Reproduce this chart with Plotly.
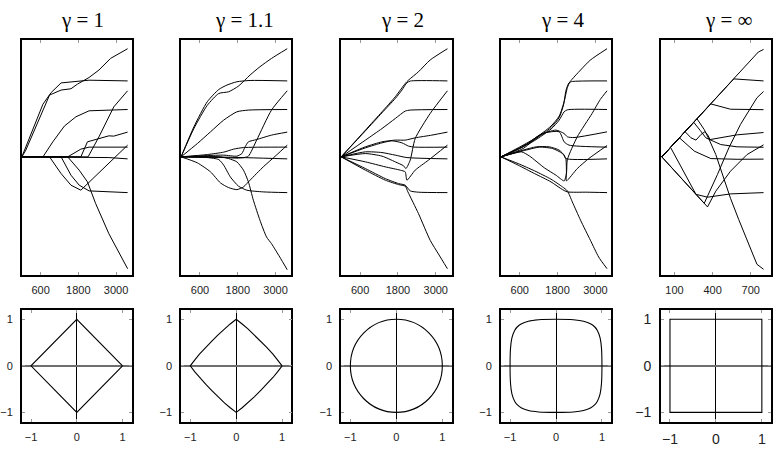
import plotly.graph_objects as go

# ---------------- data ----------------
TITLES = ["γ = 1", "γ = 1.1", "γ = 2", "γ = 4", "γ = ∞"]
TICKS_NORM = [600, 1800, 3000]
TICKS_INF = [100, 400, 700]
BALL_TICKS = [-1, 0, 1]

# gamma = 1
g1_bmi = [(0, 0), (672, 368), (935, 450), (1250, 517), (2142, 536), (3370, 531)]
g1_s5 = [(0, 0), (126, 47), (882, 432), (1250, 467), (1565, 476), (1775, 509), (2142, 555), (2457, 607), (2825, 688), (3087, 723), (3370, 756)]
g1_bp = [(0, 0), (672, 0), (987, 105), (1355, 215), (1722, 280), (2142, 322), (3370, 331)]
g1_s3 = [(0, 0), (882, 0), (1250, -117), (1565, -198), (1880, -233), (3370, 82)]
g1_sex = [(0, 0), (1250, 0), (1565, -128), (1827, -198), (2142, -238), (2772, -245), (3370, -250)]
g1_s1 = [(0, 0), (1460, 0), (1827, -93), (2090, -175), (2352, -327), (2772, -537), (3370, -782)]
g1_s6 = [(0, 0), (1460, 0), (1880, 54), (2142, 68), (3370, 68)]
g1_s4 = [(0, 0), (1880, 0), (2090, 105), (2352, 121), (2772, 147), (2930, 145), (3370, 173)]
g1_s2 = [(0, 0), (2110, 0), (2457, 140), (2930, 350), (3370, 462)]
g1_age = [(0, 0), (2772, -5), (3370, -14)]

# gamma = 1.1
g2_s5 = [(0, 0), (412, 200), (831, 360), (1197, 443), (1510, 455), (1824, 495), (2190, 572), (2504, 630), (2871, 688), (3370, 756)]
g2_bmi = [(0, 0), (412, 212), (831, 385), (1197, 471), (1458, 502), (1772, 525), (2190, 534), (3370, 531)]
g2_bp = [(0, 0), (517, 93), (935, 175), (1354, 257), (1772, 315), (2138, 327), (3370, 331)]
g2_s4 = [(0, 0), (831, 9), (1354, 12), (1772, 5), (1929, 23), (2033, 70), (2138, 105), (2400, 121), (2871, 152), (3370, 173)]
g2_s6 = [(0, 0), (831, 16), (1354, 33), (1667, 54), (1981, 65), (3370, 68)]
g2_age = [(0, 0), (1354, -2), (3370, -14)]
g2_s2 = [(0, 0), (1354, -5), (1772, -9), (2002, -5), (2138, 5), (2400, 117), (2871, 327), (3370, 462)]
g2_s3 = [(0, 0), (517, -42), (935, -105), (1249, -182), (1510, -215), (1772, -229), (1981, -210), (2190, -163), (2609, -70), (3027, 12), (3370, 82)]
g2_sex = [(0, 0), (831, -5), (1197, -19), (1354, -58), (1563, -140), (1824, -205), (2086, -233), (2609, -245), (3370, -250)]
g2_s1 = [(0, 0), (1249, 0), (1510, -12), (1772, -35), (1981, -93), (2138, -175), (2295, -303), (2504, -443), (2713, -560), (2871, -607), (3132, -700), (3370, -789)]

# gamma = 2
g3_s5 = [(0, 0), (769, 187), (1295, 315), (1716, 420), (2032, 513), (2138, 537), (2453, 595), (2822, 677), (3370, 756)]
g3_bmi = [(0, 0), (769, 182), (1295, 308), (1716, 408), (1927, 467), (2085, 518), (2190, 530), (3370, 531)]
g3_bp = [(0, 0), (769, 117), (1295, 198), (1716, 268), (2032, 320), (2190, 327), (3370, 331)]
g3_s4 = [(0, 0), (769, 70), (1295, 105), (1716, 117), (2032, 117), (2348, 133), (2875, 152), (3370, 173)]
g3_s6 = [(0, 0), (769, 63), (1295, 98), (1611, 112), (1927, 98), (2138, 75), (2348, 68), (3370, 68)]
g3_age = [(0, 0), (769, 35), (1295, 30), (1716, 12), (2085, -5), (3370, -14)]
g3_s2 = [(0, 0), (769, 23), (1295, 5), (1716, -35), (1980, -63), (2053, -82), (2190, -23), (2348, 128), (2822, 303), (3370, 462)]
g3_s3 = [(0, 0), (769, -35), (1400, -70), (1874, -93), (2032, -105), (2085, -163), (2348, -93), (2769, -23), (3370, 82)]
g3_sex = [(0, 0), (769, -82), (1400, -152), (1822, -187), (2032, -198), (2190, -238), (2453, -247), (3370, -250)]
g3_s1 = [(0, 0), (769, -93), (1400, -163), (1822, -194), (2032, -205), (2117, -245), (2453, -397), (2822, -583), (3085, -679), (3370, -782)]

# gamma = 4
g4_s5 = [(0, 0), (548, 63), (1069, 128), (1591, 215), (1851, 285), (2008, 385), (2112, 485), (2196, 525), (2529, 607), (2842, 677), (3370, 756)]
g4_bmi = [(0, 0), (548, 58), (1069, 121), (1591, 205), (1851, 275), (1987, 362), (2070, 467), (2164, 518), (2268, 527), (3370, 531)]
g4_bp = [(0, 0), (548, 54), (1069, 114), (1591, 194), (1851, 257), (2008, 315), (2112, 329), (3370, 331)]
g4_s4 = [(0, 0), (704, 70), (1226, 152), (1747, 187), (2008, 163), (2112, 140), (2321, 135), (3370, 175)]
g4_s6 = [(0, 0), (704, 58), (1330, 163), (1851, 175), (2008, 105), (2164, 82), (3370, 68)]
g4_age = [(0, 0), (704, 47), (1122, 70), (1538, 70), (1851, 47), (2008, 12), (2060, -12), (3370, -14)]
g4_s3 = [(0, 0), (704, 42), (1226, 68), (1643, 58), (1956, 23), (2060, -12), (2081, -105), (2081, -168), (2425, -82), (2790, -12), (3370, 79)]
g4_s2 = [(0, 0), (652, 35), (913, 5), (1382, -77), (1747, -128), (2008, -168), (2081, -117), (2112, -19), (2425, 140), (2894, 303), (3155, 401), (3370, 462)]
g4_sex = [(0, 0), (548, -58), (1069, -117), (1591, -175), (1956, -229), (2112, -245), (2738, -247), (3370, -250)]
g4_s1 = [(0, 0), (548, -47), (1069, -98), (1591, -156), (1956, -210), (2112, -238), (2268, -315), (2529, -443), (2842, -583), (3103, -700), (3370, -782)]

# gamma = infinity
g5_s5 = [(0, 0), (760, 733), (801, 751)]
g5_bmi = [(0, 0), (567, 545), (801, 531)]
g5_bp = [(0, 0), (386, 370), (541, 333), (801, 330)]
g5_s4 = [(0, 0), (183, 176), (230, 133), (269, 117), (308, 156), (339, 175), (360, 156), (380, 121), (593, 154), (801, 170)]
g5_s6 = [(0, 0), (251, 242), (303, 184), (347, 133), (464, 86), (593, 70), (801, 67)]
g5_s1 = [(0, 0), (277, 266), (334, 191), (373, 121), (425, 16), (477, -124), (541, -290), (606, -439), (749, -751), (801, -786)]
g5_age = [(0, 0), (139, 133), (256, 40), (386, -12), (593, -17), (801, -16)]
g5_sex = [(0, 0), (69, 66), (269, -262), (360, -282), (541, -259), (801, -250)]
g5_s2 = [(0, 0), (334, -325), (438, -124), (528, 63), (619, 226), (697, 343), (749, 413), (801, 457)]
g5_s3 = [(0, 0), (360, -350), (425, -240), (541, -100), (671, 16), (801, 84)]

# unit balls (first-quadrant outlines)
ball_l1 = [(1, 0), (0, 1)]
ball_l11 = [(1, 0), (0.9, 0.13), (0.8, 0.25), (0.66, 0.40), (0.53, 0.53), (0.40, 0.66), (0.25, 0.8), (0.13, 0.9), (0, 1)]
ball_l4 = [(1, 0), (0.99, 0.38), (0.96, 0.6), (0.9, 0.76), (0.84, 0.84), (0.76, 0.9), (0.6, 0.96), (0.38, 0.99), (0, 1)]
ball_linf = [(1, 0), (1, 1), (0, 1)]

# ---------------- layout geometry ----------------
W, H = 774, 450
COLS = [(12, 123.3), (173.3, 285), (335.5, 447.3), (497.3, 609), (659.3, 771)]
TOP = (40, 275)
BOT = (310, 421.7)
TITLE_X = [73.5, 238, 397.5, 560, 728]

panels = [
    [g1_age, g1_sex, g1_bmi, g1_bp, g1_s1, g1_s2, g1_s3, g1_s4, g1_s5, g1_s6],
    [g2_age, g2_sex, g2_bmi, g2_bp, g2_s1, g2_s2, g2_s3, g2_s4, g2_s5, g2_s6],
    [g3_age, g3_sex, g3_bmi, g3_bp, g3_s1, g3_s2, g3_s3, g3_s4, g3_s5, g3_s6],
    [g4_age, g4_sex, g4_bmi, g4_bp, g4_s1, g4_s2, g4_s3, g4_s4, g4_s5, g4_s6],
    [g5_age, g5_sex, g5_bmi, g5_bp, g5_s1, g5_s2, g5_s3, g5_s4, g5_s5, g5_s6],
]
shapes_line = ["linear", "spline", "spline", "spline", "linear"]


def closed_loop(q):
    pts = list(q)
    pts += [(-x, y) for x, y in reversed(q)][1:]
    pts += [(-x, -y) for x, y in q][1:]
    pts += [(x, -y) for x, y in reversed(q)][1:]
    return pts


fig = go.Figure()

for i, paths in enumerate(panels):
    ax = str(i + 1)
    for p in paths:
        fig.add_trace(go.Scatter(
            x=[a for a, b in p], y=[b for a, b in p], mode="lines",
            line=dict(color="black", width=1, shape=shapes_line[i], smoothing=0.6),
            xaxis="x" + ax, yaxis="y" + ax, showlegend=False, hoverinfo="skip"))

balls = [(ball_l1, "linear"), (ball_l11, "linear"), (None, None), (ball_l4, "spline"), (ball_linf, "linear")]
for i, (q, shp) in enumerate(balls):
    ax = str(i + 6)
    if q is None:
        continue
    pts = closed_loop(q)
    fig.add_trace(go.Scatter(
        x=[a for a, b in pts], y=[b for a, b in pts], mode="lines",
        line=dict(color="black", width=1.1, shape=shp, smoothing=1.0),
        xaxis="x" + ax, yaxis="y" + ax, showlegend=False, hoverinfo="skip"))

fig.add_shape(type="circle", xref="x8", yref="y8", x0=-1, y0=-1, x1=1, y1=1,
              line=dict(color="black", width=1.1))

FONT = dict(family="Liberation Sans, Arial, sans-serif", size=11, color="#222")
frame = dict(showline=True, linecolor="black", linewidth=1.6, mirror="ticks",
             showgrid=False, ticks="inside", ticklen=3, tickcolor="#999", tickwidth=1,
             tickfont=FONT, fixedrange=True)

layout = dict(width=W, height=H, margin=dict(l=0, r=0, t=0, b=0),
              paper_bgcolor="white", plot_bgcolor="white", showlegend=False)

for i in range(5):
    x0, x1 = COLS[i]
    dom_x = [x0 / W, x1 / W]
    # top panel
    k = str(i + 1)
    xa = dict(frame, domain=dom_x, anchor="y" + k, zeroline=False, ticklabelstandoff=4)
    if i < 4:
        xa.update(range=[0, 3500], tickvals=TICKS_NORM)
    else:
        xa.update(range=[-8, 860], tickvals=TICKS_INF)
    ya = dict(frame, domain=[1 - TOP[1] / H, 1 - TOP[0] / H], anchor="x" + k,
              range=[-826, 817], showticklabels=False, ticks="", zeroline=False)
    layout["xaxis" + ("" if i == 0 else k)] = xa
    layout["yaxis" + ("" if i == 0 else k)] = ya
    # bottom panel
    b = str(i + 6)
    bfont = dict(FONT, size=14) if i == 4 else FONT
    xb = dict(frame, domain=dom_x, anchor="y" + b, range=[-1.2, 1.2], tickvals=BALL_TICKS,
              tickfont=bfont, zeroline=True, zerolinecolor="black", zerolinewidth=1,
              ticklabelstandoff=4)
    yb = dict(frame, domain=[1 - BOT[1] / H, 1 - BOT[0] / H], anchor="x" + b,
              range=[-1.2, 1.2], tickvals=BALL_TICKS, tickfont=bfont,
              zeroline=True, zerolinecolor="#6e6e6e", zerolinewidth=2,
              ticklabelstandoff=5)
    layout["xaxis" + b] = xb
    layout["yaxis" + b] = yb

layout["annotations"] = [
    dict(text=t, x=TITLE_X[i] / W, y=1 - 19.5 / H, xref="paper", yref="paper",
         xanchor="center", yanchor="middle", showarrow=False,
         font=dict(family="Liberation Serif, Times New Roman, serif", size=21, color="black"))
    for i, t in enumerate(TITLES)
]

fig.update_layout(**layout)
fig.write_html("out.html")
